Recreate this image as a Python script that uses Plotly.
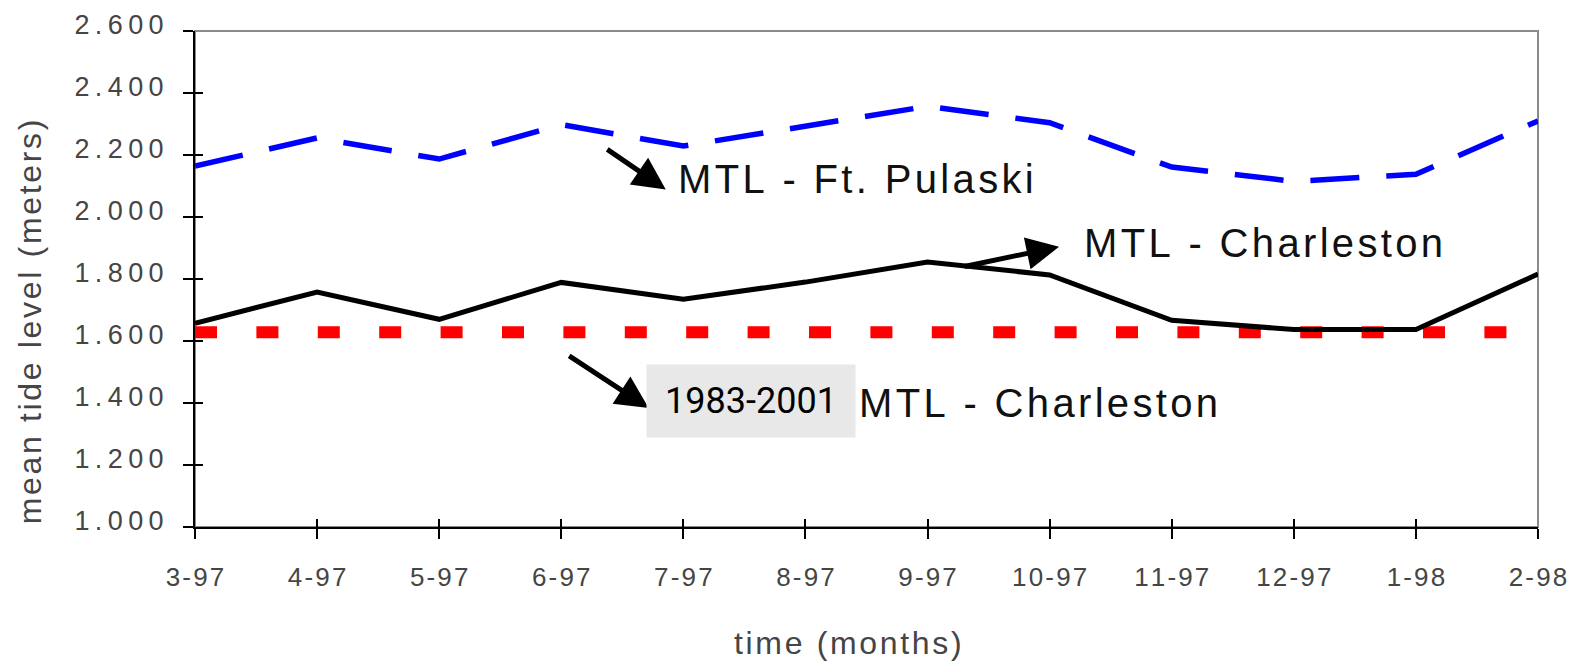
import plotly.graph_objects as go

months = ["3-97", "4-97", "5-97", "6-97", "7-97", "8-97", "9-97", "10-97", "11-97", "12-97", "1-98", "2-98"]
ft_pulaski = [2.164, 2.255, 2.187, 2.298, 2.229, 2.294, 2.357, 2.304, 2.161, 2.115, 2.138, 2.310]
charleston = [1.657, 1.758, 1.670, 1.789, 1.735, 1.790, 1.855, 1.813, 1.667, 1.637, 1.637, 1.816]
charleston_mean_1983_2001 = [1.628] * len(months)
y_ticks = [1.0, 1.2, 1.4, 1.6, 1.8, 2.0, 2.2, 2.4, 2.6]

HS = "\u200a"
TS = "\u2009"


def track(s, gap=HS):
    return gap.join(list(s))


xi = list(range(len(months)))
FONT = "Liberation Sans, Arial, sans-serif"

fig = go.Figure()
fig.add_trace(go.Scatter(x=xi, y=charleston_mean_1983_2001, mode="lines",
                         line=dict(color="#ff0000", width=12, dash="22px,39.4px"),
                         hoverinfo="skip", showlegend=False))
fig.add_trace(go.Scatter(x=xi, y=ft_pulaski, mode="lines",
                         line=dict(color="#0000ff", width=5.5, dash="49px,27px"),
                         showlegend=False))
fig.add_trace(go.Scatter(x=xi, y=charleston, mode="lines",
                         line=dict(color="#000000", width=5),
                         showlegend=False))
# invisible trace to create overlay axes for crossing ticks
fig.add_trace(go.Scatter(x=[0], y=[1.0], xaxis="x2", yaxis="y2", mode="markers",
                         marker=dict(opacity=0), hoverinfo="skip", showlegend=False))

fig.update_layout(
    width=1581, height=664,
    margin=dict(l=195, r=43, t=31, b=137, autoexpand=False),
    paper_bgcolor="white", plot_bgcolor="white",
    xaxis=dict(range=[0, 11], tickvals=xi, ticktext=[track(m) for m in months],
               showgrid=False, zeroline=False, showline=True, linecolor="black", linewidth=2,
               ticks="outside", ticklen=10, tickwidth=2, tickcolor="black", automargin=False,
               tickfont=dict(family=FONT, size=26, color="#454545"), ticklabelstandoff=16),
    yaxis=dict(range=[1.0, 2.6], tickvals=y_ticks, ticktext=[track(f"{v:.3f}", TS) for v in y_ticks],
               showgrid=False, zeroline=False, showline=True, linecolor="black", linewidth=2,
               ticks="outside", ticklen=10, tickwidth=2, tickcolor="black", automargin=False,
               tickfont=dict(family=FONT, size=27, color="#454545"), ticklabelstandoff=14,
               ticklabelshift=-6),
    xaxis2=dict(range=[0, 11], tickvals=xi, overlaying="x", anchor="y", side="bottom",
                showgrid=False, zeroline=False, showline=False, showticklabels=False,
                ticks="inside", ticklen=8, tickwidth=2, tickcolor="black", automargin=False),
    yaxis2=dict(range=[1.0, 2.6], tickvals=y_ticks, overlaying="y", anchor="x", side="left",
                showgrid=False, zeroline=False, showline=False, showticklabels=False,
                ticks="inside", ticklen=8, tickwidth=2, tickcolor="black", automargin=False),
    shapes=[dict(type="rect", xref="paper", yref="paper", x0=0, x1=1, y0=0, y1=1,
                 line=dict(color="#8a8a8a", width=2), layer="below")],
)

ann_font = dict(family=FONT, size=40, color="#111111")
arrow = dict(text="", showarrow=True, arrowhead=2, arrowsize=1.3, arrowwidth=5,
             arrowcolor="black", xref="x", yref="y", axref="pixel", ayref="pixel")
anns = [
    # axis titles
    dict(text=track("mean tide level (meters)"), xref="paper", yref="paper", x=0, y=0.4127,
         xshift=-165, textangle=-90, showarrow=False, xanchor="center", yanchor="middle",
         font=dict(family=FONT, size=32, color="#454545")),
    dict(text=track("time (months)"), xref="paper", yref="paper", x=0.4862, y=0, yshift=-116,
         showarrow=False, xanchor="center", yanchor="middle",
         font=dict(family=FONT, size=32, color="#454545")),
    # arrows
    dict(x=3.856, y=2.089, ax=-60, ay=-41, **arrow),
    dict(x=7.077, y=1.904, ax=-96, ay=20, **arrow),
    dict(x=3.716, y=1.384, ax=-81, ay=-53, **arrow),
    # labels
    dict(text=track("MTL - Ft. Pulaski"), x=3.939, y=2.122, xref="x", yref="y",
         xanchor="left", yanchor="middle", showarrow=False, font=ann_font),
    dict(text=track("MTL - Charleston"), x=7.267, y=1.917, xref="x", yref="y",
         xanchor="left", yanchor="middle", showarrow=False, font=ann_font),
    dict(text=track("MTL - Charleston"), x=5.425, y=1.40, xref="x", yref="y",
         xanchor="left", yanchor="middle", showarrow=False, font=ann_font),
    dict(text="1983-2001", x=4.55, y=1.408, xref="x", yref="y",
         xanchor="center", yanchor="middle", showarrow=False,
         width=196, height=60, borderpad=6, bgcolor="#e8e8e8",
         font=dict(family="Roboto, sans-serif", size=36, color="#000000")),
]
fig.update_layout(annotations=anns)

fig.write_html("out.html")
